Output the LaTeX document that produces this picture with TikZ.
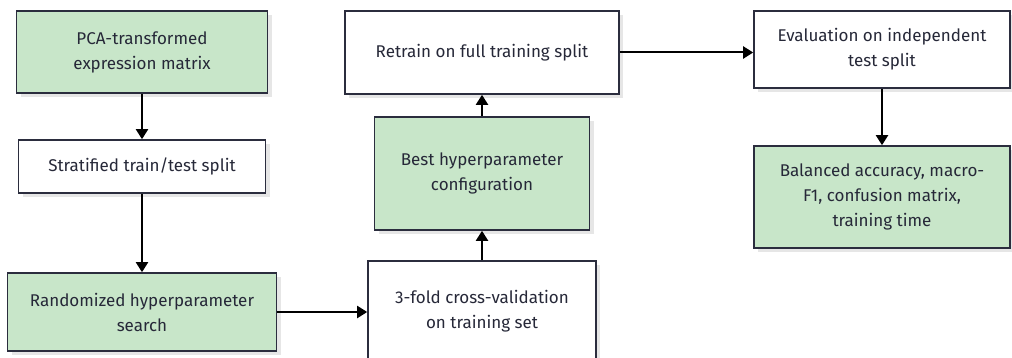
\documentclass[tikz,border=0pt]{standalone}
\usepackage{fontspec}
\setmainfont{Fira Sans}
\usetikzlibrary{arrows.meta,shadows}
\definecolor{edgecol}{HTML}{2B2D3E}
\definecolor{txtcol}{HTML}{262838}
\definecolor{greenfill}{HTML}{C8E6C9}
\definecolor{shadowcol}{HTML}{E6E6E6}
\tikzset{
  box/.style={draw=edgecol, line width=1.6pt, fill=white, text=txtcol,
    align=center, inner sep=0pt, font=\fontsize{17}{25}\selectfont,
    drop shadow={shadow xshift=4pt, shadow yshift=-4pt, fill=shadowcol, opacity=1}},
  greenbox/.style={box, fill=greenfill},
  flow/.style={draw=black, line width=2pt, -{Triangle[width=12pt,length=10pt]}}
}
\begin{document}
\begin{tikzpicture}[x=1pt,y=-1pt]
\useasboundingbox (0,0) rectangle (1012,358);
\node[greenbox, minimum width=251pt, minimum height=82pt] (pca) at (142,52) {PCA-transformed\\expression matrix};
\node[box, minimum width=247pt, minimum height=53pt] (strat) at (142,166.5) {Stratified train/test split};
\node[greenbox, minimum width=269pt, minimum height=78pt] (search) at (142,312) {Randomized hyperparameter\\search};
\node[box, minimum width=228pt, minimum height=100pt] (cv) at (482,311) {3-fold cross-validation\\on training set};
\node[greenbox, minimum width=215pt, minimum height=113pt] (best) at (482,173.5) {Best hyperparameter\\configuration};
\node[box, minimum width=274pt, minimum height=83pt] (retrain) at (482,52.5) {Retrain on full training split};
\node[box, minimum width=256pt, minimum height=77pt] (eval) at (882,49.5) {Evaluation on independent\\test split};
\node[greenbox, minimum width=256pt, minimum height=102pt] (metrics) at (882,197) {Balanced accuracy, macro-\\F1, confusion matrix,\\training time};

\draw[flow] (pca) -- (strat);
\draw[flow] (strat) -- (search);
\draw[flow] (search.east) -- (search.east -| cv.west);
\draw[flow] (cv) -- (best);
\draw[flow] (best) -- (retrain);
\draw[flow] (retrain.east) -- (retrain.east -| eval.west);
\draw[flow] (eval) -- (metrics);
\end{tikzpicture}
\end{document}
